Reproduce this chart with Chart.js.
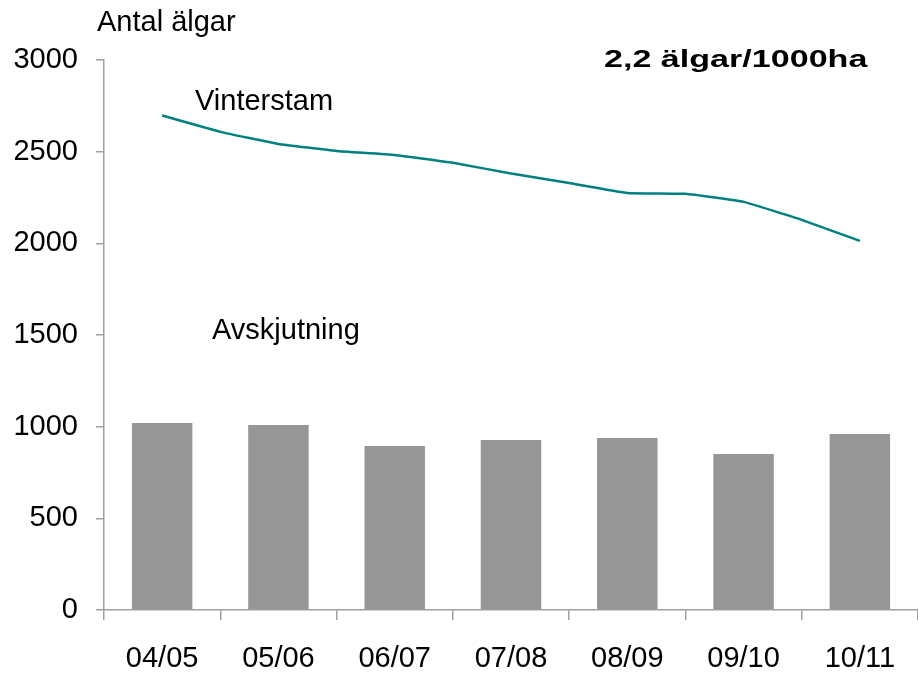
<!DOCTYPE html>
<html>
<head>
<meta charset="utf-8">
<script src="https://cdn.jsdelivr.net/npm/chart.js@4/dist/chart.umd.min.js"></script>
<style>
html,body{margin:0;padding:0;background:#fff;}
#wrap{width:918px;height:674px;position:relative;}
</style>
</head>
<body>
<div id="wrap"><canvas id="c"></canvas></div>
<script>
const categories = ['04/05','05/06','06/07','07/08','08/09','09/10','10/11'];
const avskjutning = [1020, 1009, 895, 927, 938, 851, 960];
const vinterstamX = [0, 0.5, 1, 1.5, 2, 2.5, 3, 3.5, 4, 4.5, 5, 5.5, 6];
const vinterstam = [2697, 2608, 2542, 2504, 2482, 2439, 2381, 2329, 2275, 2270, 2226, 2128, 2013];
const yAxisTitle = 'Antal älgar';
const lineLabel = 'Vinterstam';
const barLabel = 'Avskjutning';
const density = '2,2 älgar/1000ha';

const FONT = '"Liberation Sans", Arial, sans-serif';

const textPlugin = {
  id: 'texts',
  afterDraw(chart) {
    const ctx = chart.ctx;
    ctx.save();
    ctx.fillStyle = '#000';
    ctx.textBaseline = 'alphabetic';
    ctx.textAlign = 'left';
    ctx.font = '29px ' + FONT;
    ctx.fillText(yAxisTitle, 97, 31);
    ctx.fillText(lineLabel, 195, 110);
    ctx.fillText(barLabel, 212, 339);
    ctx.font = 'bold 24px ' + FONT;
    ctx.translate(604, 67);
    ctx.scale(1.42, 1);
    ctx.fillText(density, 0, 0);
    ctx.restore();
  }
};

new Chart(document.getElementById('c'), {
  type: 'line',
  data: {
    labels: categories,
    datasets: [
      {
        type: 'line',
        label: lineLabel,
        data: vinterstamX.map((x, i) => ({x: x, y: vinterstam[i]})),
        xAxisID: 'x2',
        yAxisID: 'y',
        borderColor: '#008080',
        borderWidth: 2.5,
        pointRadius: 0,
        tension: 0.1,
        fill: false,
        order: 1
      },
      {
        type: 'bar',
        label: barLabel,
        data: avskjutning,
        xAxisID: 'x',
        yAxisID: 'y',
        backgroundColor: '#969696',
        borderWidth: 0,
        grouped: false,
        barPercentage: 1,
        categoryPercentage: 0.52,
        order: 2
      }
    ]
  },
  options: {
    responsive: true,
    maintainAspectRatio: false,
    animation: false,
    layout: {padding: {top: 60, right: 0, left: 0, bottom: 0}},
    plugins: {legend: {display: false}, tooltip: {enabled: false}},
    scales: {
      x: {
        type: 'category',
        offset: true,
        grid: {display: true, drawOnChartArea: false, tickLength: 10, color: '#a0a0a0', lineWidth: 1.5, offset: true},
        border: {display: true, color: '#a0a0a0', width: 1.5},
        ticks: {font: {family: FONT, size: 29}, color: '#000', padding: 22, maxRotation: 0, autoSkip: false},
        afterFit(s) { s.height = 64; }
      },
      x2: {
        type: 'linear',
        display: false,
        offset: false,
        grid: {offset: false},
        min: -0.5,
        max: 6.5
      },
      y: {
        type: 'linear',
        min: 0,
        max: 3000,
        grid: {display: true, drawOnChartArea: false, tickLength: 8, color: '#a0a0a0', lineWidth: 1.5},
        border: {display: true, color: '#a0a0a0', width: 1.5},
        ticks: {stepSize: 500, font: {family: FONT, size: 29}, color: '#000', padding: 18,
                callback: (v) => String(v)},
        afterFit(s) { s.width = 104; }
      }
    }
  },
  plugins: [textPlugin]
});
</script>
</body>
</html>
